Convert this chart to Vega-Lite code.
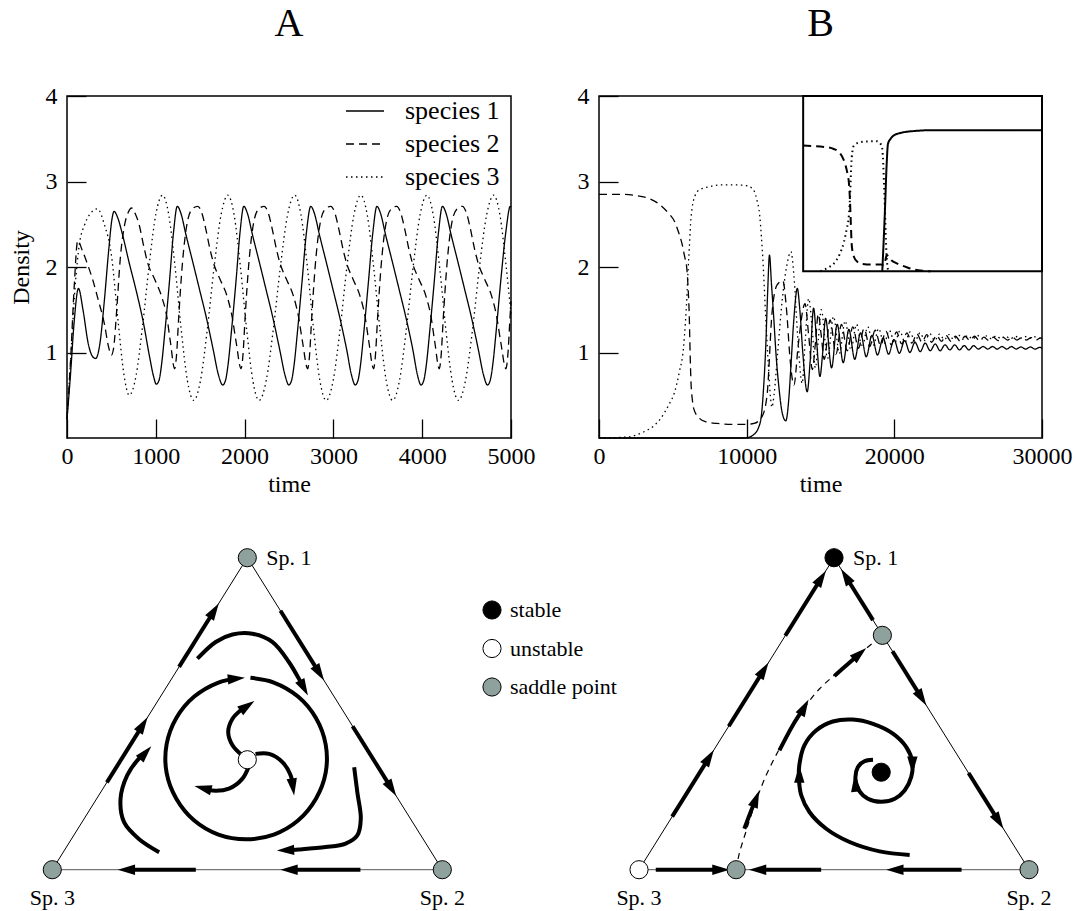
{
"$schema":"https://vega.github.io/schema/vega-lite/v6.json",
"padding":{"left":8,"top":3,"right":5,"bottom":5},
"background":"white",
"config":{"font":"Liberation Serif","view":{"stroke":null},
"axis":{"domain":false,"grid":false,"labelFont":"Liberation Serif","labelFontSize":24,"labelColor":"black","titleFont":"Liberation Serif","titleFontSize":24,"titleFontWeight":"normal","titleColor":"black","tickColor":"black","tickWidth":1.3,"tickSize":-19,"labelFlush":false,"labelOverlap":false,"labelBound":false,"format":"d"},
"legend":{"labelFont":"Liberation Serif","labelColor":"black","title":null},
"title":{"font":"Liberation Serif","fontSize":40,"fontWeight":"normal","color":"black"}},
"datasets":{
"tsA":[
{"t":0,"d":0.22,"s":"species 1"},{"t":40,"d":0.75,"s":"species 1"},{"t":80,"d":1.35,"s":"species 1"},{"t":129,"d":1.75,"s":"species 1"},{"t":180,"d":1.5,"s":"species 1"},{"t":240,"d":1.1,"s":"species 1"},{"t":290,"d":0.95,"s":"species 1"},{"t":323,"d":0.93,"s":"species 1"},{"t":370,"d":1.1,"s":"species 1"},{"t":420,"d":1.6,"s":"species 1"},{"t":470,"d":2.2,"s":"species 1"},{"t":505,"d":2.55,"s":"species 1"},{"t":530,"d":2.65,"s":"species 1"},{"t":570,"d":2.58,"s":"species 1"},{"t":620,"d":2.4,"s":"species 1"},{"t":700,"d":2.05,"s":"species 1"},{"t":780,"d":1.72,"s":"species 1"},{"t":860,"d":1.35,"s":"species 1"},{"t":930,"d":0.95,"s":"species 1"},{"t":975,"d":0.72,"s":"species 1"},
{"t":1005,"d":0.63,"s":"species 1"},{"t":1035,"d":0.67,"s":"species 1"},{"t":1065,"d":0.86,"s":"species 1"},{"t":1102,"d":1.24,"s":"species 1"},{"t":1153,"d":1.82,"s":"species 1"},{"t":1200,"d":2.41,"s":"species 1"},{"t":1242,"d":2.71,"s":"species 1"},{"t":1285,"d":2.62,"s":"species 1"},{"t":1339,"d":2.38,"s":"species 1"},{"t":1416,"d":2.06,"s":"species 1"},{"t":1494,"d":1.73,"s":"species 1"},{"t":1571,"d":1.4,"s":"species 1"},{"t":1649,"d":1.02,"s":"species 1"},{"t":1705,"d":0.74,"s":"species 1"},
{"t":1754,"d":0.62,"s":"species 1"},{"t":1784,"d":0.67,"s":"species 1"},{"t":1814,"d":0.86,"s":"species 1"},{"t":1851,"d":1.24,"s":"species 1"},{"t":1902,"d":1.82,"s":"species 1"},{"t":1949,"d":2.41,"s":"species 1"},{"t":1991,"d":2.71,"s":"species 1"},{"t":2034,"d":2.62,"s":"species 1"},{"t":2088,"d":2.38,"s":"species 1"},{"t":2165,"d":2.06,"s":"species 1"},{"t":2243,"d":1.73,"s":"species 1"},{"t":2320,"d":1.4,"s":"species 1"},{"t":2398,"d":1.02,"s":"species 1"},{"t":2454,"d":0.74,"s":"species 1"},
{"t":2498,"d":0.62,"s":"species 1"},{"t":2528,"d":0.67,"s":"species 1"},{"t":2558,"d":0.86,"s":"species 1"},{"t":2595,"d":1.24,"s":"species 1"},{"t":2646,"d":1.82,"s":"species 1"},{"t":2697,"d":2.41,"s":"species 1"},{"t":2745,"d":2.71,"s":"species 1"},{"t":2788,"d":2.62,"s":"species 1"},{"t":2842,"d":2.38,"s":"species 1"},{"t":2919,"d":2.06,"s":"species 1"},{"t":2997,"d":1.73,"s":"species 1"},{"t":3074,"d":1.4,"s":"species 1"},{"t":3152,"d":1.02,"s":"species 1"},{"t":3203,"d":0.74,"s":"species 1"},
{"t":3246,"d":0.62,"s":"species 1"},{"t":3276,"d":0.67,"s":"species 1"},{"t":3306,"d":0.86,"s":"species 1"},{"t":3343,"d":1.24,"s":"species 1"},{"t":3394,"d":1.82,"s":"species 1"},{"t":3445,"d":2.41,"s":"species 1"},{"t":3490,"d":2.71,"s":"species 1"},{"t":3533,"d":2.62,"s":"species 1"},{"t":3587,"d":2.38,"s":"species 1"},{"t":3664,"d":2.06,"s":"species 1"},{"t":3742,"d":1.73,"s":"species 1"},{"t":3819,"d":1.4,"s":"species 1"},{"t":3897,"d":1.02,"s":"species 1"},{"t":3946,"d":0.74,"s":"species 1"},
{"t":3987,"d":0.62,"s":"species 1"},{"t":4017,"d":0.67,"s":"species 1"},{"t":4047,"d":0.86,"s":"species 1"},{"t":4084,"d":1.24,"s":"species 1"},{"t":4135,"d":1.82,"s":"species 1"},{"t":4184,"d":2.41,"s":"species 1"},{"t":4228,"d":2.71,"s":"species 1"},{"t":4271,"d":2.62,"s":"species 1"},{"t":4325,"d":2.38,"s":"species 1"},{"t":4402,"d":2.06,"s":"species 1"},{"t":4480,"d":1.73,"s":"species 1"},{"t":4557,"d":1.4,"s":"species 1"},{"t":4635,"d":1.02,"s":"species 1"},{"t":4690,"d":0.74,"s":"species 1"},
{"t":4735,"d":0.62,"s":"species 1"},{"t":4765,"d":0.67,"s":"species 1"},{"t":4795,"d":0.86,"s":"species 1"},{"t":4832,"d":1.24,"s":"species 1"},{"t":4883,"d":1.82,"s":"species 1"},{"t":4942,"d":2.41,"s":"species 1"},{"t":4992,"d":2.71,"s":"species 1"},{"t":5000,"d":2.7,"s":"species 1"},
{"t":0,"d":0.22,"s":"species 2"},{"t":40,"d":0.9,"s":"species 2"},{"t":80,"d":1.75,"s":"species 2"},{"t":121,"d":2.31,"s":"species 2"},{"t":170,"d":2.2,"s":"species 2"},{"t":235,"d":2.02,"s":"species 2"},{"t":290,"d":1.85,"s":"species 2"},{"t":348,"d":1.63,"s":"species 2"},{"t":424,"d":1.32,"s":"species 2"},{"t":465,"d":1.08,"s":"species 2"},{"t":500,"d":0.97,"s":"species 2"},{"t":525,"d":1.05,"s":"species 2"},{"t":560,"d":1.5,"s":"species 2"},{"t":600,"d":2.1,"s":"species 2"},{"t":650,"d":2.5,"s":"species 2"},{"t":690,"d":2.64,"s":"species 2"},{"t":727,"d":2.69,"s":"species 2"},{"t":770,"d":2.62,"s":"species 2"},{"t":811,"d":2.5,"s":"species 2"},{"t":869,"d":2.22,"s":"species 2"},{"t":908,"d":2.05,"s":"species 2"},{"t":986,"d":1.86,"s":"species 2"},{"t":1064,"d":1.66,"s":"species 2"},{"t":1122,"d":1.43,"s":"species 2"},{"t":1165,"d":1.12,"s":"species 2"},
{"t":1212,"d":0.81,"s":"species 2"},{"t":1232,"d":0.95,"s":"species 2"},{"t":1259,"d":1.43,"s":"species 2"},{"t":1298,"d":2.02,"s":"species 2"},{"t":1356,"d":2.53,"s":"species 2"},{"t":1412,"d":2.68,"s":"species 2"},{"t":1473,"d":2.71,"s":"species 2"},{"t":1522,"d":2.62,"s":"species 2"},{"t":1562,"d":2.45,"s":"species 2"},{"t":1612,"d":2.2,"s":"species 2"},{"t":1652,"d":2.04,"s":"species 2"},{"t":1722,"d":1.86,"s":"species 2"},{"t":1802,"d":1.66,"s":"species 2"},{"t":1857,"d":1.43,"s":"species 2"},{"t":1905,"d":1.12,"s":"species 2"},
{"t":1960,"d":0.81,"s":"species 2"},{"t":1980,"d":0.95,"s":"species 2"},{"t":2007,"d":1.43,"s":"species 2"},{"t":2046,"d":2.02,"s":"species 2"},{"t":2104,"d":2.53,"s":"species 2"},{"t":2160,"d":2.68,"s":"species 2"},{"t":2221,"d":2.71,"s":"species 2"},{"t":2270,"d":2.62,"s":"species 2"},{"t":2310,"d":2.45,"s":"species 2"},{"t":2360,"d":2.2,"s":"species 2"},{"t":2400,"d":2.04,"s":"species 2"},{"t":2470,"d":1.86,"s":"species 2"},{"t":2550,"d":1.66,"s":"species 2"},{"t":2605,"d":1.43,"s":"species 2"},{"t":2653,"d":1.12,"s":"species 2"},
{"t":2710,"d":0.81,"s":"species 2"},{"t":2730,"d":0.95,"s":"species 2"},{"t":2757,"d":1.43,"s":"species 2"},{"t":2796,"d":2.02,"s":"species 2"},{"t":2854,"d":2.53,"s":"species 2"},{"t":2910,"d":2.68,"s":"species 2"},{"t":2971,"d":2.71,"s":"species 2"},{"t":3020,"d":2.62,"s":"species 2"},{"t":3060,"d":2.45,"s":"species 2"},{"t":3110,"d":2.2,"s":"species 2"},{"t":3150,"d":2.04,"s":"species 2"},{"t":3220,"d":1.86,"s":"species 2"},{"t":3300,"d":1.66,"s":"species 2"},{"t":3355,"d":1.43,"s":"species 2"},{"t":3400,"d":1.12,"s":"species 2"},
{"t":3452,"d":0.81,"s":"species 2"},{"t":3472,"d":0.95,"s":"species 2"},{"t":3499,"d":1.43,"s":"species 2"},{"t":3538,"d":2.02,"s":"species 2"},{"t":3596,"d":2.53,"s":"species 2"},{"t":3652,"d":2.68,"s":"species 2"},{"t":3713,"d":2.71,"s":"species 2"},{"t":3762,"d":2.62,"s":"species 2"},{"t":3802,"d":2.45,"s":"species 2"},{"t":3852,"d":2.2,"s":"species 2"},{"t":3892,"d":2.04,"s":"species 2"},{"t":3962,"d":1.86,"s":"species 2"},{"t":4042,"d":1.66,"s":"species 2"},{"t":4097,"d":1.43,"s":"species 2"},{"t":4142,"d":1.12,"s":"species 2"},
{"t":4192,"d":0.81,"s":"species 2"},{"t":4212,"d":0.95,"s":"species 2"},{"t":4239,"d":1.43,"s":"species 2"},{"t":4278,"d":2.02,"s":"species 2"},{"t":4336,"d":2.53,"s":"species 2"},{"t":4392,"d":2.68,"s":"species 2"},{"t":4453,"d":2.71,"s":"species 2"},{"t":4502,"d":2.62,"s":"species 2"},{"t":4542,"d":2.45,"s":"species 2"},{"t":4592,"d":2.2,"s":"species 2"},{"t":4632,"d":2.04,"s":"species 2"},{"t":4702,"d":1.86,"s":"species 2"},{"t":4782,"d":1.66,"s":"species 2"},{"t":4837,"d":1.43,"s":"species 2"},{"t":4885,"d":1.12,"s":"species 2"},
{"t":4943,"d":0.81,"s":"species 2"},{"t":4963,"d":0.95,"s":"species 2"},{"t":4990,"d":1.43,"s":"species 2"},{"t":5000,"d":1.6,"s":"species 2"},
{"t":0,"d":0.22,"s":"species 3"},{"t":40,"d":0.9,"s":"species 3"},{"t":90,"d":1.75,"s":"species 3"},{"t":140,"d":2.27,"s":"species 3"},{"t":197,"d":2.49,"s":"species 3"},{"t":260,"d":2.62,"s":"species 3"},{"t":343,"d":2.68,"s":"species 3"},{"t":420,"d":2.5,"s":"species 3"},{"t":500,"d":2.14,"s":"species 3"},{"t":576,"d":1.36,"s":"species 3"},{"t":640,"d":0.75,"s":"species 3"},{"t":701,"d":0.5,"s":"species 3"},
{"t":776,"d":0.72,"s":"species 3"},{"t":851,"d":1.31,"s":"species 3"},{"t":926,"d":2.03,"s":"species 3"},{"t":1001,"d":2.62,"s":"species 3"},{"t":1076,"d":2.84,"s":"species 3"},
{"t":1146,"d":2.61,"s":"species 3"},{"t":1216,"d":2.01,"s":"species 3"},{"t":1286,"d":1.27,"s":"species 3"},{"t":1356,"d":0.67,"s":"species 3"},{"t":1426,"d":0.44,"s":"species 3"},
{"t":1503,"d":0.67,"s":"species 3"},{"t":1580,"d":1.27,"s":"species 3"},{"t":1658,"d":2.01,"s":"species 3"},{"t":1735,"d":2.61,"s":"species 3"},{"t":1812,"d":2.84,"s":"species 3"},
{"t":1882,"d":2.61,"s":"species 3"},{"t":1952,"d":2.01,"s":"species 3"},{"t":2023,"d":1.27,"s":"species 3"},{"t":2093,"d":0.67,"s":"species 3"},{"t":2163,"d":0.44,"s":"species 3"},
{"t":2243,"d":0.67,"s":"species 3"},{"t":2323,"d":1.27,"s":"species 3"},{"t":2404,"d":2.01,"s":"species 3"},{"t":2484,"d":2.61,"s":"species 3"},{"t":2564,"d":2.84,"s":"species 3"},
{"t":2635,"d":2.61,"s":"species 3"},{"t":2706,"d":2.01,"s":"species 3"},{"t":2777,"d":1.27,"s":"species 3"},{"t":2848,"d":0.67,"s":"species 3"},{"t":2919,"d":0.44,"s":"species 3"},
{"t":2997,"d":0.67,"s":"species 3"},{"t":3075,"d":1.27,"s":"species 3"},{"t":3153,"d":2.01,"s":"species 3"},{"t":3231,"d":2.61,"s":"species 3"},{"t":3309,"d":2.84,"s":"species 3"},
{"t":3381,"d":2.61,"s":"species 3"},{"t":3452,"d":2.01,"s":"species 3"},{"t":3524,"d":1.27,"s":"species 3"},{"t":3595,"d":0.67,"s":"species 3"},{"t":3667,"d":0.44,"s":"species 3"},
{"t":3744,"d":0.67,"s":"species 3"},{"t":3821,"d":1.27,"s":"species 3"},{"t":3899,"d":2.01,"s":"species 3"},{"t":3976,"d":2.61,"s":"species 3"},{"t":4053,"d":2.84,"s":"species 3"},
{"t":4124,"d":2.61,"s":"species 3"},{"t":4195,"d":2.01,"s":"species 3"},{"t":4266,"d":1.27,"s":"species 3"},{"t":4337,"d":0.67,"s":"species 3"},{"t":4408,"d":0.44,"s":"species 3"},
{"t":4487,"d":0.67,"s":"species 3"},{"t":4567,"d":1.27,"s":"species 3"},{"t":4646,"d":2.01,"s":"species 3"},{"t":4726,"d":2.61,"s":"species 3"},{"t":4805,"d":2.84,"s":"species 3"},
{"t":4875,"d":2.61,"s":"species 3"},{"t":4945,"d":2.01,"s":"species 3"},{"t":5000,"d":1.45,"s":"species 3"}
],
"tsB":[
{"t":0,"d":0,"s":"species 1"},{"t":9800,"d":0,"s":"species 1"},{"t":10000,"d":0.003,"s":"species 1"},{"t":10400,"d":0.03,"s":"species 1"},{"t":10800,"d":0.12,"s":"species 1"},{"t":11000,"d":0.27,"s":"species 1"},{"t":11150,"d":0.6,"s":"species 1"},{"t":11285,"d":1.04,"s":"species 1"},{"t":11420,"d":1.7,"s":"species 1"},{"t":11545,"d":2.14,"s":"species 1"},{"t":11680,"d":1.8,"s":"species 1"},{"t":11825,"d":1.43,"s":"species 1"},{"t":12000,"d":0.95,"s":"species 1"},{"t":12180,"d":0.6,"s":"species 1"},{"t":12400,"d":0.3,"s":"species 1"},{"t":12650,"d":0.2,"s":"species 1"},{"t":12850,"d":0.45,"s":"species 1"},{"t":13000,"d":0.85,"s":"species 1"},{"t":13200,"d":1.4,"s":"species 1"},{"t":13430,"d":1.75,"s":"species 1"},{"t":13600,"d":1.5,"s":"species 1"},{"t":13800,"d":1.0,"s":"species 1"},{"t":14100,"d":0.54,"s":"species 1"},{"t":14300,"d":0.9,"s":"species 1"},{"t":14530,"d":1.52,"s":"species 1"},{"t":14750,"d":1.1,"s":"species 1"},{"t":14960,"d":0.72,"s":"species 1"},{"t":15150,"d":1.0,"s":"species 1"},{"t":15340,"d":1.4,"s":"species 1"},{"t":15750,"d":0.82,"s":"species 1"},{"t":16130,"d":1.33,"s":"species 1"},{"t":16540,"d":0.88,"s":"species 1"},{"t":16920,"d":1.27,"s":"species 1"},{"t":17320,"d":0.92,"s":"species 1"},{"t":17710,"d":1.23,"s":"species 1"},{"t":18100,"d":0.95,"s":"species 1"},{"t":18480,"d":1.2,"s":"species 1"},{"t":18860,"d":0.97,"s":"species 1"},{"t":19240,"d":1.17,"s":"species 1"},{"t":19610,"d":0.98,"s":"species 1"},{"t":19980,"d":1.15,"s":"species 1"},{"t":20340,"d":0.99,"s":"species 1"},{"t":20700,"d":1.14,"s":"species 1"},{"t":21050,"d":1.0,"s":"species 1"},{"t":21400,"d":1.12,"s":"species 1"},{"t":21750,"d":1.01,"s":"species 1"},{"t":22090,"d":1.11,"s":"species 1"},{"t":22430,"d":1.02,"s":"species 1"},{"t":22770,"d":1.1,"s":"species 1"},{"t":23100,"d":1.02,"s":"species 1"},{"t":23430,"d":1.09,"s":"species 1"},{"t":23760,"d":1.03,"s":"species 1"},{"t":24090,"d":1.09,"s":"species 1"},{"t":24410,"d":1.03,"s":"species 1"},{"t":24730,"d":1.08,"s":"species 1"},{"t":25050,"d":1.03,"s":"species 1"},{"t":25370,"d":1.08,"s":"species 1"},{"t":25690,"d":1.04,"s":"species 1"},{"t":26010,"d":1.07,"s":"species 1"},{"t":26330,"d":1.04,"s":"species 1"},{"t":26650,"d":1.07,"s":"species 1"},{"t":26970,"d":1.04,"s":"species 1"},{"t":27290,"d":1.07,"s":"species 1"},{"t":27610,"d":1.04,"s":"species 1"},{"t":27930,"d":1.07,"s":"species 1"},{"t":28250,"d":1.04,"s":"species 1"},{"t":28570,"d":1.065,"s":"species 1"},{"t":28890,"d":1.04,"s":"species 1"},{"t":29210,"d":1.065,"s":"species 1"},{"t":29530,"d":1.04,"s":"species 1"},{"t":29850,"d":1.06,"s":"species 1"},{"t":30000,"d":1.05,"s":"species 1"},
{"t":0,"d":2.85,"s":"species 2"},{"t":1500,"d":2.85,"s":"species 2"},{"t":3010,"d":2.82,"s":"species 2"},{"t":4185,"d":2.72,"s":"species 2"},{"t":4700,"d":2.63,"s":"species 2"},{"t":5125,"d":2.53,"s":"species 2"},{"t":5400,"d":2.4,"s":"species 2"},{"t":5595,"d":2.29,"s":"species 2"},{"t":5800,"d":2.12,"s":"species 2"},{"t":5948,"d":1.98,"s":"species 2"},{"t":6050,"d":1.7,"s":"species 2"},{"t":6113,"d":1.43,"s":"species 2"},{"t":6170,"d":1.0,"s":"species 2"},{"t":6230,"d":0.65,"s":"species 2"},{"t":6320,"d":0.45,"s":"species 2"},{"t":6420,"d":0.34,"s":"species 2"},{"t":6800,"d":0.23,"s":"species 2"},{"t":7240,"d":0.19,"s":"species 2"},{"t":8000,"d":0.17,"s":"species 2"},{"t":9120,"d":0.16,"s":"species 2"},{"t":10000,"d":0.16,"s":"species 2"},{"t":10500,"d":0.17,"s":"species 2"},{"t":11040,"d":0.25,"s":"species 2"},{"t":11380,"d":0.5,"s":"species 2"},{"t":11720,"d":1.47,"s":"species 2"},{"t":12060,"d":1.79,"s":"species 2"},{"t":12450,"d":1.84,"s":"species 2"},{"t":12700,"d":1.5,"s":"species 2"},{"t":12950,"d":0.9,"s":"species 2"},{"t":13200,"d":0.62,"s":"species 2"},{"t":13500,"d":1.1,"s":"species 2"},{"t":13950,"d":1.57,"s":"species 2"},{"t":14200,"d":1.2,"s":"species 2"},{"t":14450,"d":0.8,"s":"species 2"},{"t":14650,"d":1.1,"s":"species 2"},{"t":14850,"d":1.45,"s":"species 2"},{"t":15050,"d":1.2,"s":"species 2"},{"t":15250,"d":0.92,"s":"species 2"},{"t":15650,"d":1.38,"s":"species 2"},{"t":16050,"d":0.98,"s":"species 2"},{"t":16420,"d":1.33,"s":"species 2"},{"t":16810,"d":1.02,"s":"species 2"},{"t":17190,"d":1.3,"s":"species 2"},{"t":17570,"d":1.05,"s":"species 2"},{"t":17950,"d":1.28,"s":"species 2"},{"t":18330,"d":1.07,"s":"species 2"},{"t":18700,"d":1.26,"s":"species 2"},{"t":19070,"d":1.08,"s":"species 2"},{"t":19430,"d":1.25,"s":"species 2"},{"t":19790,"d":1.09,"s":"species 2"},{"t":20150,"d":1.24,"s":"species 2"},{"t":20500,"d":1.1,"s":"species 2"},{"t":20850,"d":1.23,"s":"species 2"},{"t":21190,"d":1.11,"s":"species 2"},{"t":21530,"d":1.22,"s":"species 2"},{"t":21870,"d":1.12,"s":"species 2"},{"t":22200,"d":1.21,"s":"species 2"},{"t":22530,"d":1.12,"s":"species 2"},{"t":22860,"d":1.2,"s":"species 2"},{"t":23190,"d":1.13,"s":"species 2"},{"t":23510,"d":1.2,"s":"species 2"},{"t":23830,"d":1.13,"s":"species 2"},{"t":24150,"d":1.19,"s":"species 2"},{"t":24470,"d":1.13,"s":"species 2"},{"t":24790,"d":1.19,"s":"species 2"},{"t":25110,"d":1.14,"s":"species 2"},{"t":25430,"d":1.19,"s":"species 2"},{"t":25750,"d":1.14,"s":"species 2"},{"t":26070,"d":1.18,"s":"species 2"},{"t":26390,"d":1.14,"s":"species 2"},{"t":26710,"d":1.18,"s":"species 2"},{"t":27030,"d":1.14,"s":"species 2"},{"t":27350,"d":1.18,"s":"species 2"},{"t":27670,"d":1.145,"s":"species 2"},{"t":27990,"d":1.18,"s":"species 2"},{"t":28310,"d":1.145,"s":"species 2"},{"t":28630,"d":1.175,"s":"species 2"},{"t":28950,"d":1.145,"s":"species 2"},{"t":29270,"d":1.175,"s":"species 2"},{"t":29590,"d":1.145,"s":"species 2"},{"t":29910,"d":1.17,"s":"species 2"},{"t":30000,"d":1.16,"s":"species 2"},
{"t":0,"d":0,"s":"species 3"},{"t":1830,"d":0.01,"s":"species 3"},{"t":3010,"d":0.07,"s":"species 3"},{"t":3700,"d":0.14,"s":"species 3"},{"t":4185,"d":0.23,"s":"species 3"},{"t":4700,"d":0.38,"s":"species 3"},{"t":5125,"d":0.54,"s":"species 3"},{"t":5450,"d":0.78,"s":"species 3"},{"t":5713,"d":1.04,"s":"species 3"},{"t":5850,"d":1.35,"s":"species 3"},{"t":5948,"d":1.63,"s":"species 3"},{"t":6030,"d":1.95,"s":"species 3"},{"t":6113,"d":2.21,"s":"species 3"},{"t":6200,"d":2.5,"s":"species 3"},{"t":6300,"d":2.68,"s":"species 3"},{"t":6500,"d":2.83,"s":"species 3"},{"t":6771,"d":2.9,"s":"species 3"},{"t":7500,"d":2.94,"s":"species 3"},{"t":8180,"d":2.96,"s":"species 3"},{"t":9200,"d":2.96,"s":"species 3"},{"t":10060,"d":2.95,"s":"species 3"},{"t":10300,"d":2.93,"s":"species 3"},{"t":10530,"d":2.88,"s":"species 3"},{"t":10700,"d":2.78,"s":"species 3"},{"t":10885,"d":2.6,"s":"species 3"},{"t":11000,"d":2.35,"s":"species 3"},{"t":11120,"d":2.02,"s":"species 3"},{"t":11285,"d":1.43,"s":"species 3"},{"t":11470,"d":0.85,"s":"species 3"},{"t":11600,"d":0.5,"s":"species 3"},{"t":11710,"d":0.36,"s":"species 3"},{"t":11850,"d":0.5,"s":"species 3"},{"t":12100,"d":1.0,"s":"species 3"},{"t":12400,"d":1.6,"s":"species 3"},{"t":12700,"d":2.0,"s":"species 3"},{"t":13000,"d":2.18,"s":"species 3"},{"t":13200,"d":1.9,"s":"species 3"},{"t":13450,"d":1.2,"s":"species 3"},{"t":13760,"d":0.64,"s":"species 3"},{"t":13950,"d":1.1,"s":"species 3"},{"t":14200,"d":1.63,"s":"species 3"},{"t":14450,"d":1.25,"s":"species 3"},{"t":14650,"d":0.82,"s":"species 3"},{"t":14850,"d":1.15,"s":"species 3"},{"t":15050,"d":1.5,"s":"species 3"},{"t":15480,"d":0.93,"s":"species 3"},{"t":15880,"d":1.42,"s":"species 3"},{"t":16280,"d":0.99,"s":"species 3"},{"t":16670,"d":1.37,"s":"species 3"},{"t":17060,"d":1.03,"s":"species 3"},{"t":17440,"d":1.33,"s":"species 3"},{"t":17820,"d":1.06,"s":"species 3"},{"t":18200,"d":1.3,"s":"species 3"},{"t":18570,"d":1.08,"s":"species 3"},{"t":18940,"d":1.28,"s":"species 3"},{"t":19300,"d":1.1,"s":"species 3"},{"t":19660,"d":1.26,"s":"species 3"},{"t":20020,"d":1.11,"s":"species 3"},{"t":20370,"d":1.25,"s":"species 3"},{"t":20720,"d":1.12,"s":"species 3"},{"t":21060,"d":1.24,"s":"species 3"},{"t":21400,"d":1.13,"s":"species 3"},{"t":21740,"d":1.23,"s":"species 3"},{"t":22070,"d":1.14,"s":"species 3"},{"t":22400,"d":1.22,"s":"species 3"},{"t":22730,"d":1.14,"s":"species 3"},{"t":23060,"d":1.215,"s":"species 3"},{"t":23380,"d":1.15,"s":"species 3"},{"t":23700,"d":1.21,"s":"species 3"},{"t":24020,"d":1.15,"s":"species 3"},{"t":24340,"d":1.205,"s":"species 3"},{"t":24660,"d":1.155,"s":"species 3"},{"t":24980,"d":1.2,"s":"species 3"},{"t":25300,"d":1.155,"s":"species 3"},{"t":25620,"d":1.2,"s":"species 3"},{"t":25940,"d":1.16,"s":"species 3"},{"t":26260,"d":1.195,"s":"species 3"},{"t":26580,"d":1.16,"s":"species 3"},{"t":26900,"d":1.195,"s":"species 3"},{"t":27220,"d":1.16,"s":"species 3"},{"t":27540,"d":1.19,"s":"species 3"},{"t":27860,"d":1.16,"s":"species 3"},{"t":28180,"d":1.19,"s":"species 3"},{"t":28500,"d":1.165,"s":"species 3"},{"t":28820,"d":1.19,"s":"species 3"},{"t":29140,"d":1.165,"s":"species 3"},{"t":29460,"d":1.185,"s":"species 3"},{"t":29780,"d":1.165,"s":"species 3"},{"t":30000,"d":1.175,"s":"species 3"}
],
"insetB":[
{"t":13826,"d":3.42,"s":"species 2"},{"t":15454,"d":3.4,"s":"species 2"},{"t":15900,"d":3.38,"s":"species 2"},{"t":16243,"d":3.345,"s":"species 2"},{"t":16500,"d":3.28,"s":"species 2"},{"t":16696,"d":3.19,"s":"species 2"},{"t":16850,"d":3.07,"s":"species 2"},{"t":16922,"d":2.99,"s":"species 2"},{"t":16990,"d":2.8,"s":"species 2"},{"t":17036,"d":2.6,"s":"species 2"},{"t":17103,"d":2.29,"s":"species 2"},{"t":17180,"d":2.17,"s":"species 2"},{"t":17262,"d":2.12,"s":"species 2"},{"t":17500,"d":2.06,"s":"species 2"},{"t":17714,"d":2.04,"s":"species 2"},{"t":18400,"d":2.03,"s":"species 2"},{"t":19100,"d":2.03,"s":"species 2"},{"t":19300,"d":2.02,"s":"species 2"},{"t":19420,"d":2.1,"s":"species 2"},{"t":19478,"d":2.14,"s":"species 2"},{"t":19560,"d":2.13,"s":"species 2"},{"t":19800,"d":2.08,"s":"species 2"},{"t":20203,"d":2.04,"s":"species 2"},{"t":20800,"d":2.0,"s":"species 2"},{"t":21334,"d":1.97,"s":"species 2"},{"t":22000,"d":1.955,"s":"species 2"},{"t":22465,"d":1.95,"s":"species 2"},
{"t":14999,"d":1.95,"s":"species 3"},{"t":15500,"d":1.99,"s":"species 3"},{"t":15905,"d":2.04,"s":"species 3"},{"t":16300,"d":2.15,"s":"species 3"},{"t":16584,"d":2.29,"s":"species 3"},{"t":16780,"d":2.45,"s":"species 3"},{"t":16922,"d":2.6,"s":"species 3"},{"t":17020,"d":2.9,"s":"species 3"},{"t":17081,"d":3.19,"s":"species 3"},{"t":17160,"d":3.35,"s":"species 3"},{"t":17262,"d":3.42,"s":"species 3"},{"t":17714,"d":3.46,"s":"species 3"},{"t":18400,"d":3.47,"s":"species 3"},{"t":18844,"d":3.47,"s":"species 3"},{"t":19070,"d":3.44,"s":"species 3"},{"t":19184,"d":3.38,"s":"species 3"},{"t":19250,"d":3.2,"s":"species 3"},{"t":19298,"d":2.99,"s":"species 3"},{"t":19360,"d":2.7,"s":"species 3"},{"t":19411,"d":2.4,"s":"species 3"},{"t":19478,"d":2.13,"s":"species 3"},{"t":19569,"d":1.97,"s":"species 3"},{"t":19637,"d":1.95,"s":"species 3"},
{"t":19184,"d":1.95,"s":"species 1"},{"t":19350,"d":2.6,"s":"species 1"},{"t":19480,"d":3.2,"s":"species 1"},{"t":19569,"d":3.44,"s":"species 1"},{"t":19750,"d":3.5,"s":"species 1"},{"t":19976,"d":3.54,"s":"species 1"},{"t":20600,"d":3.575,"s":"species 1"},{"t":21334,"d":3.59,"s":"species 1"},{"t":22500,"d":3.6,"s":"species 1"},{"t":23597,"d":3.6,"s":"species 1"},{"t":30000,"d":3.6,"s":"species 1"}
],
"triAlines":[
{"k":"side","p":"s","i":0,"x":0,"y":0},{"k":"side","p":"s","i":1,"x":0.5,"y":0.8},{"k":"side","p":"s","i":2,"x":1,"y":0},
{"k":"base","p":"b","i":0,"x":0,"y":0},{"k":"base","p":"b","i":1,"x":1,"y":0},
{"k":"flow","p":"L1","i":0,"x":0.14,"y":0.224},{"k":"flow","p":"L1","i":1,"x":0.2325,"y":0.372},
{"k":"flow","p":"L2","i":0,"x":0.325,"y":0.52},{"k":"flow","p":"L2","i":1,"x":0.415,"y":0.664},
{"k":"flow","p":"R1","i":0,"x":0.585,"y":0.664},{"k":"flow","p":"R1","i":1,"x":0.685,"y":0.504},
{"k":"flow","p":"R2","i":0,"x":0.77,"y":0.368},{"k":"flow","p":"R2","i":1,"x":0.87,"y":0.208},
{"k":"flow","p":"B1","i":0,"x":0.79,"y":0},{"k":"flow","p":"B1","i":1,"x":0.607,"y":0},
{"k":"flow","p":"B2","i":0,"x":0.368,"y":0},{"k":"flow","p":"B2","i":1,"x":0.19,"y":0},
{"k":"flow","p":"top","i":0,"x":0.372,"y":0.541},{"k":"flow","p":"top","i":1,"x":0.419,"y":0.584},{"k":"flow","p":"top","i":2,"x":0.462,"y":0.603},{"k":"flow","p":"top","i":3,"x":0.513,"y":0.605},{"k":"flow","p":"top","i":4,"x":0.564,"y":0.584},{"k":"flow","p":"top","i":5,"x":0.607,"y":0.532},{"k":"flow","p":"top","i":6,"x":0.637,"y":0.481},{"k":"flow","p":"top","i":7,"x":0.645,"y":0.466},
{"k":"flow","p":"right","i":0,"x":0.774,"y":0.263},{"k":"flow","p":"right","i":1,"x":0.782,"y":0.199},{"k":"flow","p":"right","i":2,"x":0.791,"y":0.131},{"k":"flow","p":"right","i":3,"x":0.782,"y":0.088},{"k":"flow","p":"right","i":4,"x":0.752,"y":0.067},{"k":"flow","p":"right","i":5,"x":0.701,"y":0.058},{"k":"flow","p":"right","i":6,"x":0.632,"y":0.052},{"k":"flow","p":"right","i":7,"x":0.598,"y":0.05},
{"k":"flow","p":"left","i":0,"x":0.274,"y":0.045},{"k":"flow","p":"left","i":1,"x":0.222,"y":0.079},{"k":"flow","p":"left","i":2,"x":0.184,"y":0.122},{"k":"flow","p":"left","i":3,"x":0.175,"y":0.182},{"k":"flow","p":"left","i":4,"x":0.192,"y":0.242},{"k":"flow","p":"left","i":5,"x":0.222,"y":0.285},{"k":"flow","p":"left","i":6,"x":0.239,"y":0.3},
{"k":"flow","p":"circ","i":0,"x":0.508,"y":0.492},{"k":"flow","p":"circ","i":1,"x":0.568,"y":0.48},{"k":"flow","p":"circ","i":2,"x":0.63,"y":0.444},{"k":"flow","p":"circ","i":3,"x":0.676,"y":0.389},{"k":"flow","p":"circ","i":4,"x":0.701,"y":0.321},{"k":"flow","p":"circ","i":5,"x":0.701,"y":0.249},{"k":"flow","p":"circ","i":6,"x":0.676,"y":0.182},{"k":"flow","p":"circ","i":7,"x":0.63,"y":0.126},{"k":"flow","p":"circ","i":8,"x":0.568,"y":0.09},{"k":"flow","p":"circ","i":9,"x":0.497,"y":0.078},{"k":"flow","p":"circ","i":10,"x":0.426,"y":0.09},{"k":"flow","p":"circ","i":11,"x":0.364,"y":0.126},{"k":"flow","p":"circ","i":12,"x":0.318,"y":0.182},{"k":"flow","p":"circ","i":13,"x":0.293,"y":0.249},{"k":"flow","p":"circ","i":14,"x":0.293,"y":0.321},{"k":"flow","p":"circ","i":15,"x":0.318,"y":0.389},{"k":"flow","p":"circ","i":16,"x":0.364,"y":0.444},{"k":"flow","p":"circ","i":17,"x":0.426,"y":0.48},{"k":"flow","p":"circ","i":18,"x":0.472,"y":0.49},
{"k":"flow","p":"arm1","i":0,"x":0.487,"y":0.293},{"k":"flow","p":"arm1","i":1,"x":0.462,"y":0.319},{"k":"flow","p":"arm1","i":2,"x":0.451,"y":0.353},{"k":"flow","p":"arm1","i":3,"x":0.462,"y":0.387},{"k":"flow","p":"arm1","i":4,"x":0.483,"y":0.409},{"k":"flow","p":"arm1","i":5,"x":0.5,"y":0.42},
{"k":"flow","p":"arm2","i":0,"x":0.521,"y":0.297},{"k":"flow","p":"arm2","i":1,"x":0.556,"y":0.297},{"k":"flow","p":"arm2","i":2,"x":0.59,"y":0.276},{"k":"flow","p":"arm2","i":3,"x":0.611,"y":0.242},{"k":"flow","p":"arm2","i":4,"x":0.617,"y":0.212},
{"k":"flow","p":"arm3","i":0,"x":0.503,"y":0.263},{"k":"flow","p":"arm3","i":1,"x":0.487,"y":0.233},{"k":"flow","p":"arm3","i":2,"x":0.453,"y":0.208},{"k":"flow","p":"arm3","i":3,"x":0.41,"y":0.203},{"k":"flow","p":"arm3","i":4,"x":0.386,"y":0.209}
],
"triAarrows":[
{"x":0.2325,"y":0.372,"a":-58},{"x":0.415,"y":0.664,"a":-58},{"x":0.685,"y":0.504,"a":58},{"x":0.87,"y":0.208,"a":58},{"x":0.607,"y":0,"a":180},{"x":0.19,"y":0,"a":180},{"x":0.645,"y":0.466,"a":62},{"x":0.598,"y":0.05,"a":178},{"x":0.239,"y":0.3,"a":-48},{"x":0.472,"y":0.49,"a":-5},{"x":0.5,"y":0.42,"a":-35},{"x":0.617,"y":0.212,"a":82},{"x":0.386,"y":0.209,"a":-166}
],
"triApts":[
{"x":0.5,"y":0.8,"type":"saddle point"},{"x":0,"y":0,"type":"saddle point"},{"x":1,"y":0,"type":"saddle point"},{"x":0.5,"y":0.282,"type":"unstable"}
],
"triBlines":[
{"k":"side","p":"s","i":0,"x":0,"y":0},{"k":"side","p":"s","i":1,"x":0.5,"y":0.8},{"k":"side","p":"s","i":2,"x":1,"y":0},
{"k":"base","p":"b","i":0,"x":0,"y":0},{"k":"base","p":"b","i":1,"x":1,"y":0},
{"k":"flow","p":"L1","i":0,"x":0.085,"y":0.136},{"k":"flow","p":"L1","i":1,"x":0.18,"y":0.288},
{"k":"flow","p":"L2","i":0,"x":0.23,"y":0.368},{"k":"flow","p":"L2","i":1,"x":0.32,"y":0.512},
{"k":"flow","p":"L3","i":0,"x":0.375,"y":0.6},{"k":"flow","p":"L3","i":1,"x":0.4675,"y":0.748},
{"k":"flow","p":"R0","i":0,"x":0.6,"y":0.64},{"k":"flow","p":"R0","i":1,"x":0.53,"y":0.752},
{"k":"flow","p":"R1","i":0,"x":0.65,"y":0.56},{"k":"flow","p":"R1","i":1,"x":0.725,"y":0.44},
{"k":"flow","p":"R2","i":0,"x":0.845,"y":0.248},{"k":"flow","p":"R2","i":1,"x":0.9225,"y":0.124},
{"k":"flow","p":"B1","i":0,"x":0.043,"y":0},{"k":"flow","p":"B1","i":1,"x":0.21,"y":0},
{"k":"flow","p":"B2","i":0,"x":0.827,"y":0},{"k":"flow","p":"B2","i":1,"x":0.656,"y":0},
{"k":"flow","p":"B3","i":0,"x":0.467,"y":0},{"k":"flow","p":"B3","i":1,"x":0.304,"y":0},
{"k":"flow","p":"S1","i":0,"x":0.27,"y":0.105},{"k":"flow","p":"S1","i":1,"x":0.285,"y":0.145},{"k":"flow","p":"S1","i":2,"x":0.3,"y":0.182},
{"k":"flow","p":"S2","i":0,"x":0.36,"y":0.306},{"k":"flow","p":"S2","i":1,"x":0.394,"y":0.37},{"k":"flow","p":"S2","i":2,"x":0.424,"y":0.417},
{"k":"flow","p":"S3","i":0,"x":0.501,"y":0.497},{"k":"flow","p":"S3","i":1,"x":0.535,"y":0.527},{"k":"flow","p":"S3","i":2,"x":0.566,"y":0.554},
{"k":"flow","p":"sp","i":0,"x":0.694,"y":0.038},{"k":"flow","p":"sp","i":1,"x":0.617,"y":0.047},{"k":"flow","p":"sp","i":2,"x":0.54,"y":0.071},{"k":"flow","p":"sp","i":3,"x":0.48,"y":0.105},{"k":"flow","p":"sp","i":4,"x":0.437,"y":0.148},{"k":"flow","p":"sp","i":5,"x":0.416,"y":0.191},{"k":"flow","p":"sp","i":6,"x":0.41,"y":0.233},{"k":"flow","p":"sp","i":7,"x":0.411,"y":0.268},{"k":"flow","p":"sp","i":8,"x":0.424,"y":0.319},{"k":"flow","p":"sp","i":9,"x":0.454,"y":0.357},{"k":"flow","p":"sp","i":10,"x":0.497,"y":0.38},{"k":"flow","p":"sp","i":11,"x":0.548,"y":0.385},{"k":"flow","p":"sp","i":12,"x":0.6,"y":0.374},{"k":"flow","p":"sp","i":13,"x":0.651,"y":0.349},{"k":"flow","p":"sp","i":14,"x":0.685,"y":0.315},{"k":"flow","p":"sp","i":15,"x":0.701,"y":0.276},{"k":"flow","p":"sp","i":16,"x":0.698,"y":0.238},{"k":"flow","p":"sp","i":17,"x":0.681,"y":0.203},{"k":"flow","p":"sp","i":18,"x":0.656,"y":0.182},{"k":"flow","p":"sp","i":19,"x":0.621,"y":0.174},{"k":"flow","p":"sp","i":20,"x":0.587,"y":0.182},{"k":"flow","p":"sp","i":21,"x":0.564,"y":0.203},{"k":"flow","p":"sp","i":22,"x":0.555,"y":0.233},{"k":"flow","p":"sp","i":23,"x":0.561,"y":0.263},{"k":"flow","p":"sp","i":24,"x":0.578,"y":0.278},{"k":"flow","p":"sp","i":25,"x":0.6,"y":0.282},
{"k":"sep","p":"sep","i":0,"x":0.249,"y":0},{"k":"sep","p":"sep","i":1,"x":0.257,"y":0.041},{"k":"sep","p":"sep","i":2,"x":0.274,"y":0.097},{"k":"sep","p":"sep","i":3,"x":0.296,"y":0.165},{"k":"sep","p":"sep","i":4,"x":0.326,"y":0.242},{"k":"sep","p":"sep","i":5,"x":0.36,"y":0.31},{"k":"sep","p":"sep","i":6,"x":0.394,"y":0.37},{"k":"sep","p":"sep","i":7,"x":0.428,"y":0.421},{"k":"sep","p":"sep","i":8,"x":0.463,"y":0.464},{"k":"sep","p":"sep","i":9,"x":0.506,"y":0.503},{"k":"sep","p":"sep","i":10,"x":0.548,"y":0.537},{"k":"sep","p":"sep","i":11,"x":0.587,"y":0.571},{"k":"sep","p":"sep","i":12,"x":0.624,"y":0.601}
],
"triBarrows":[
{"x":0.18,"y":0.288,"a":-58},{"x":0.32,"y":0.512,"a":-58},{"x":0.4675,"y":0.748,"a":-58},{"x":0.53,"y":0.752,"a":-122},{"x":0.725,"y":0.44,"a":58},{"x":0.9225,"y":0.124,"a":58},{"x":0.21,"y":0,"a":0},{"x":0.656,"y":0,"a":180},{"x":0.304,"y":0,"a":180},{"x":0.3,"y":0.182,"a":-69},{"x":0.424,"y":0.417,"a":-61},{"x":0.566,"y":0.554,"a":-41},{"x":0.701,"y":0.268,"a":90},{"x":0.411,"y":0.245,"a":-90},{"x":0.555,"y":0.222,"a":-95}
],
"triBpts":[
{"x":0.5,"y":0.8,"type":"stable"},{"x":0,"y":0,"type":"unstable"},{"x":1,"y":0,"type":"saddle point"},{"x":0.249,"y":0,"type":"saddle point"},{"x":0.624,"y":0.601,"type":"saddle point"},{"x":0.621,"y":0.25,"type":"stable"}
],
"labels":[
{"x":0.5,"y":0.8,"label":"Sp. 1","pos":"top"},{"x":1,"y":0,"label":"Sp. 2","pos":"bottom"},{"x":0,"y":0,"label":"Sp. 3","pos":"bottom"}
]
},
"bounds":"flush",
"columns":2,
"spacing":{"row":104,"column":88},
"resolve":{"scale":{"strokeDash":"independent","fill":"independent","x":"independent","y":"independent"},"legend":{"strokeDash":"independent","fill":"independent"}},
"concat":[
{"width":444,"height":342,
"title":{"text":"A","frame":"group","offset":8,"baseline":"alphabetic"},
"view":{"stroke":"black","strokeWidth":1.5},
"data":{"name":"tsA"},
"mark":{"type":"line","interpolate":"monotone","strokeWidth":1.3,"color":"black"},
"encoding":{
"x":{"field":"t","type":"quantitative","scale":{"domain":[0,5000],"nice":false},"axis":{"values":[0,1000,2000,3000,4000,5000],"title":"time","labelPadding":25,"titlePadding":4}},
"y":{"field":"d","type":"quantitative","scale":{"domain":[0,4],"nice":false},"axis":{"values":[1,2,3,4],"title":"Density","labelPadding":29,"titlePadding":12}},
"strokeDash":{"field":"s","type":"nominal","scale":{"domain":["species 1","species 2","species 3"],"range":[[1,0],[8,5],[1.5,3.5]]},
"legend":{"orient":"none","legendX":278,"legendY":-5,"symbolType":"stroke","symbolSize":1444,"symbolStrokeWidth":1.5,"symbolStrokeColor":"black","labelFontSize":26,"labelOffset":20,"rowPadding":-2,"padding":0}}
}},
{"width":443,"height":342,
"title":{"text":"B","frame":"group","offset":8,"baseline":"alphabetic"},
"view":{"stroke":"black","strokeWidth":1.5},
"encoding":{
"x":{"field":"t","type":"quantitative","scale":{"domain":[0,30000],"nice":false},"axis":{"values":[0,10000,20000,30000],"title":"time","labelPadding":25,"titlePadding":4}},
"y":{"field":"d","type":"quantitative","scale":{"domain":[0,4],"nice":false},"axis":{"values":[1,2,3,4],"title":null,"labelPadding":29}}
},
"layer":[
{"data":{"name":"tsB"},"mark":{"type":"line","interpolate":"monotone","strokeWidth":1.3,"color":"black"},
"encoding":{"strokeDash":{"field":"s","type":"nominal","scale":{"domain":["species 1","species 2","species 3"],"range":[[1,0],[8,5],[1.5,3.5]]},"legend":null}}},
{"data":{"values":[{"t":13826,"t2":30000,"d":1.95,"d2":4}]},"mark":{"type":"rect","fill":"white","stroke":"black","strokeWidth":2},
"encoding":{"x2":{"field":"t2"},"y2":{"field":"d2"}}},
{"data":{"name":"insetB"},"mark":{"type":"line","interpolate":"monotone","strokeWidth":2,"color":"black"},
"encoding":{"strokeDash":{"field":"s","type":"nominal","legend":null}}}
]},
{"width":400,"height":360,
"encoding":{
"x":{"field":"x","type":"quantitative","scale":{"domain":[0.0377,1.0633],"nice":false,"zero":false},"axis":null},
"y":{"field":"y","type":"quantitative","scale":{"domain":[-0.0828,0.8403],"nice":false,"zero":false},"axis":null}
},
"layer":[
{"data":{"name":"triAlines"},"transform":[{"filter":"datum.k == 'side'"}],"mark":{"type":"line","color":"black","strokeWidth":1},"encoding":{"order":{"field":"i"},"detail":{"field":"p"}}},
{"data":{"name":"triAlines"},"transform":[{"filter":"datum.k == 'base'"}],"mark":{"type":"line","color":"#777777","strokeWidth":1.2},"encoding":{"order":{"field":"i"},"detail":{"field":"p"}}},
{"data":{"name":"triAlines"},"transform":[{"filter":"datum.k == 'flow'"}],"mark":{"type":"line","color":"black","strokeWidth":4,"interpolate":"catmull-rom","strokeCap":"butt"},"encoding":{"order":{"field":"i"},"detail":{"field":"p"}}},
{"data":{"name":"triAarrows"},"mark":{"type":"point","shape":"M1,0L-1,-0.6L-1,0.6Z","filled":true,"color":"black","size":300,"opacity":1},"encoding":{"angle":{"field":"a","type":"quantitative","scale":null}}},
{"data":{"name":"triApts"},"mark":{"type":"point","shape":"circle","filled":true,"stroke":"black","strokeWidth":1,"size":330,"opacity":1},
"encoding":{"fill":{"field":"type","type":"nominal","scale":{"domain":["stable","unstable","saddle point"],"range":["black","white","#8fa19d"]},
"legend":{"orient":"none","legendX":414,"legendY":57,"symbolType":"circle","symbolSize":330,"symbolStrokeColor":"black","symbolStrokeWidth":1,"labelFontSize":22,"labelOffset":7,"rowPadding":14.5,"padding":0}}}},
{"data":{"name":"labels"},"transform":[{"filter":"datum.pos == 'top'"}],"mark":{"type":"text","align":"left","baseline":"middle","dx":19,"fontSize":22,"font":"Liberation Serif","color":"black"},"encoding":{"text":{"field":"label"}}},
{"data":{"name":"labels"},"transform":[{"filter":"datum.pos == 'bottom'"}],"mark":{"type":"text","align":"center","baseline":"middle","dy":28,"fontSize":22,"font":"Liberation Serif","color":"black"},"encoding":{"text":{"field":"label"}}}
]},
{"width":460,"height":360,
"encoding":{
"x":{"field":"x","type":"quantitative","scale":{"domain":[-0.1026,1.0769],"nice":false,"zero":false},"axis":null},
"y":{"field":"y","type":"quantitative","scale":{"domain":[-0.0828,0.8403],"nice":false,"zero":false},"axis":null}
},
"layer":[
{"data":{"name":"triBlines"},"transform":[{"filter":"datum.k == 'side'"}],"mark":{"type":"line","color":"black","strokeWidth":1},"encoding":{"order":{"field":"i"},"detail":{"field":"p"}}},
{"data":{"name":"triBlines"},"transform":[{"filter":"datum.k == 'base'"}],"mark":{"type":"line","color":"#777777","strokeWidth":1.2},"encoding":{"order":{"field":"i"},"detail":{"field":"p"}}},
{"data":{"name":"triBlines"},"transform":[{"filter":"datum.k == 'sep'"}],"mark":{"type":"line","color":"black","strokeWidth":1.2,"strokeDash":[6,5],"interpolate":"catmull-rom"},"encoding":{"order":{"field":"i"},"detail":{"field":"p"}}},
{"data":{"name":"triBlines"},"transform":[{"filter":"datum.k == 'flow'"}],"mark":{"type":"line","color":"black","strokeWidth":4,"interpolate":"catmull-rom","strokeCap":"butt"},"encoding":{"order":{"field":"i"},"detail":{"field":"p"}}},
{"data":{"name":"triBarrows"},"mark":{"type":"point","shape":"M1,0L-1,-0.6L-1,0.6Z","filled":true,"color":"black","size":300,"opacity":1},"encoding":{"angle":{"field":"a","type":"quantitative","scale":null}}},
{"data":{"name":"triBpts"},"mark":{"type":"point","shape":"circle","filled":true,"stroke":"black","strokeWidth":1,"size":330,"opacity":1},
"encoding":{"fill":{"field":"type","type":"nominal","scale":{"domain":["stable","unstable","saddle point"],"range":["black","white","#8fa19d"]},"legend":null}}},
{"data":{"name":"labels"},"transform":[{"filter":"datum.pos == 'top'"}],"mark":{"type":"text","align":"left","baseline":"middle","dx":19,"fontSize":22,"font":"Liberation Serif","color":"black"},"encoding":{"text":{"field":"label"}}},
{"data":{"name":"labels"},"transform":[{"filter":"datum.pos == 'bottom'"}],"mark":{"type":"text","align":"center","baseline":"middle","dy":28,"fontSize":22,"font":"Liberation Serif","color":"black"},"encoding":{"text":{"field":"label"}}}
]}
]
}
